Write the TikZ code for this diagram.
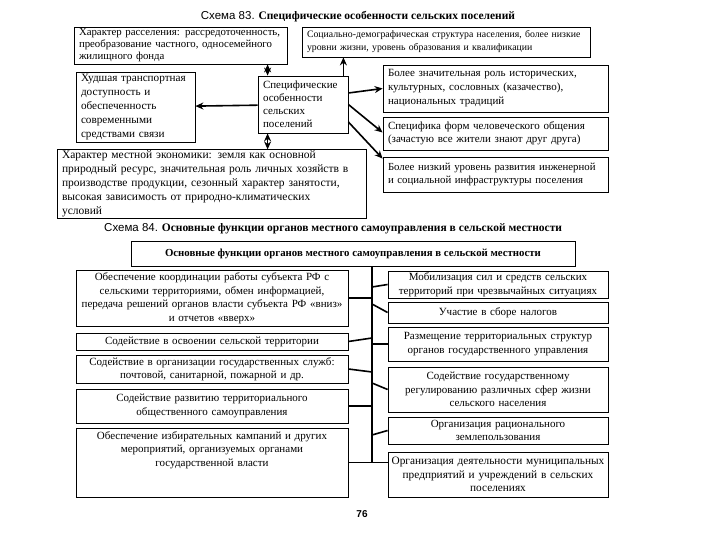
\documentclass[tikz,border=0pt]{standalone}
\usepackage{fontspec}
\setmainfont{Liberation Serif}
\setsansfont{Liberation Sans}
\usetikzlibrary{arrows.meta}

\begin{document}
\begin{tikzpicture}[x=1pt, y=-1pt, font=\fontsize{11}{13.5}\selectfont,
  bx/.style={draw, line width=0.8pt, inner xsep=2pt, inner ysep=1pt},
  lb/.style={bx, align=left, inner xsep=5pt},
  cb/.style={bx, align=center},
  ar/.style={line width=1.6pt, -{Stealth[length=8pt,width=7pt]}},
  dar/.style={line width=1.6pt, {Stealth[length=8pt,width=7pt]}-{Stealth[length=8pt,width=7pt]}},
  ln/.style={line width=1.6pt},
  ttl/.style={font=\fontsize{11.5}{13}\selectfont, inner sep=0pt},
]
  \fill[white] (0,0) rectangle (720,540);
  \useasboundingbox (0,0) rectangle (720,540);

  \node[ttl] (t83) at (358,17) {{\sffamily Схема 83.} \textbf{Специфические особенности сельских поселений}};

  \node[lb, text width=203pt, minimum height=37pt, font=\fontsize{10.8}{12}\selectfont] (hrs) at (180.5,45.5)
    {Характер расселения: рассредоточенность,\\ преобразование частного, односемейного\\ жилищного фонда};
  \node[lb, text width=278pt, minimum height=30pt, font=\fontsize{9.8}{13}\selectfont] (sdm) at (446,42)
    {Социально-демографическая структура населения, более низкие\\ уровни жизни, уровень образования и квалификации};
  \node[lb, text width=80pt, minimum height=57pt, font=\fontsize{11}{13}\selectfont] (spc) at (303,104.5)
    {Специфические\\ особенности\\ сельских\\ поселений};
  \node[lb, text width=109pt, minimum height=70pt, font=\fontsize{11.2}{14}\selectfont] (trn) at (135.5,107)
    {Худшая транспортная\\ доступность и\\ обеспеченность\\ современными\\ средствами связи};
  \node[lb, text width=215pt, minimum height=47pt, font=\fontsize{11}{14}\selectfont] (hst) at (495.5,88.5)
    {Более значительная роль исторических,\\ культурных, сословных (казачество),\\ национальных традиций};
  \node[lb, text width=215pt, minimum height=33pt] (obs) at (495.5,133.5)
    {Специфика форм человеческого общения\\ (зачастую все жители знают друг друга)};
  \node[lb, text width=215pt, minimum height=35pt, font=\fontsize{10.8}{13.5}\selectfont] (inf) at (495.5,174.5)
    {Более низкий уровень развития инженерной\\ и социальной инфраструктуры поселения};
  \node[lb, text width=299pt, minimum height=68pt, font=\fontsize{11.5}{14}\selectfont] (eco) at (211.5,184)
    {Характер местной экономики: земля как основной\\ природный ресурс, значительная роль личных хозяйств в\\ производстве продукции, сезонный характер занятости,\\ высокая зависимость от природно-климатических\\ условий};

  \draw[ar] (spc) -- (trn);
  \draw[ar] ([xshift=-5pt]spc.north east) -- ([xshift=-5pt]spc.north east |- sdm.south);
  \draw[dar] ([xshift=10pt]spc.north west) -- ([xshift=10pt]spc.north west |- hrs.south);
  \draw[dar] ([xshift=10pt]spc.south west) -- ([xshift=10pt]spc.south west |- eco.north);
  \draw[ar] ([yshift=11.5pt]spc.east) -- (hst.west);
  \draw[ar] (spc.east) -- ([yshift=1pt]obs.west);
  \draw[ar] ([yshift=-17.5pt]spc.east) -- ([yshift=-2pt]inf.north west);

  \node[ttl, anchor=west] (t84) at (104,229) {{\sffamily Схема 84.} \textbf{Основные функции органов местного самоуправления в сельской местности}};
  \node[cb, minimum width=444pt, minimum height=25pt, font=\fontsize{10.8}{13}\selectfont\bfseries] (hdr) at (353,253.5)
    {Основные функции органов местного самоуправления в сельской местности};

  \node[cb, text width=268pt, minimum height=56pt] (l1) at (212,298)
    {Обеспечение координации работы субъекта РФ с\\ сельскими территориями, обмен информацией,\\ передача решений органов власти субъекта РФ «вниз»\\ и отчетов «вверх»};
  \node[cb, text width=268pt, minimum height=17pt] (l2) at (212,341.5)
    {Содействие в освоении сельской территории};
  \node[cb, text width=268pt, minimum height=28pt] (l3) at (212,369)
    {Содействие в организации государственных служб:\\ почтовой, санитарной, пожарной и др.};
  \node[cb, text width=268pt, minimum height=34pt] (l4) at (212,406)
    {Содействие развитию территориального\\ общественного самоуправления};
  \node[cb, text width=268pt, minimum height=69pt] (l5) at (212,462.5)
    {Обеспечение избирательных кампаний и других\\ мероприятий, организуемых органами\\ государственной власти\\ \mbox{}\\ \mbox{}};

  \node[cb, text width=216pt, minimum height=27pt] (r1) at (498,284.5)
    {Мобилизация сил и средств сельских\\ территорий при чрезвычайных ситуациях};
  \node[cb, text width=216pt, minimum height=21pt] (r2) at (498,312.5)
    {Участие в сборе налогов};
  \node[cb, text width=216pt, minimum height=34pt] (r3) at (498,344)
    {Размещение территориальных структур\\ органов государственного управления};
  \node[cb, text width=216pt, minimum height=45pt] (r4) at (498,389.5)
    {Содействие государственному\\ регулированию различных сфер жизни\\ сельского населения};
  \node[cb, text width=216pt, minimum height=27pt] (r5) at (498,430.5)
    {Организация рационального\\ землепользования};
  \node[cb, text width=216pt, minimum height=45pt, font=\fontsize{11.3}{13.5}\selectfont] (r6) at (498,474.5)
    {Организация деятельности муниципальных\\ предприятий и учреждений в сельских\\ поселениях};

  \coordinate (trk) at (372,266);
  \draw[ln] (trk) -- (trk |- l5.east);
  \draw[ln] (l1.east) -- (l1.east -| trk);
  \draw[ln] ([yshift=3.5pt]l2.east -| trk) -- (l2.east);
  \draw[ln] ([yshift=-3pt]l3.east -| trk) -- (l3.east);
  \draw[ln] (l4.east) -- (l4.east -| trk);
  \draw[ln] (l5.east) -- (l5.east -| r6.west);
  \draw[ln] ([yshift=-2.5pt]r1.west -| trk) -- (r1.west);
  \draw[ln] ([yshift=8.5pt]r2.west -| trk) -- (r2.west);
  \draw[ln] (r3.west -| trk) -- (r3.west);
  \draw[ln] ([yshift=6.5pt]r4.west -| trk) -- (r4.west);
  \draw[ln] ([yshift=-4.5pt]r5.west -| trk) -- (r5.west);

  \node[font=\sffamily\bfseries\fontsize{10}{12}\selectfont] (pg) at (362,514) {76};
\end{tikzpicture}
\end{document}
